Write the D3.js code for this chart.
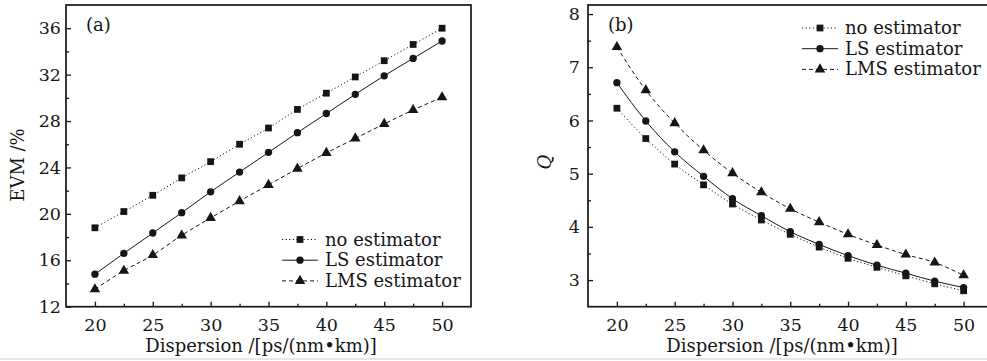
<!DOCTYPE html>
<html>
<head>
<meta charset="utf-8">
<script src="https://cdn.jsdelivr.net/npm/d3@7"></script>
<style>
  body { margin: 0; background: #fff; }
  svg { display: block; font-family: "DejaVu Serif", serif; }
</style>
</head>
<body>
<svg id="chart" width="987" height="361"></svg>
<script>
// dispersion values, ps/(nm*km)
const dispersion = [20, 22.5, 25, 27.5, 30, 32.5, 35, 37.5, 40, 42.5, 45, 47.5, 50];

// (a) EVM %
const evmNone = [18.8, 20.2, 21.6, 23.1, 24.5, 26.0, 27.4, 29.0, 30.4, 31.8, 33.2, 34.6, 36.0];
const evmLS   = [14.8, 16.6, 18.35, 20.1, 21.9, 23.6, 25.3, 27.0, 28.65, 30.3, 31.9, 33.4, 34.9];
const evmLMS  = [13.5, 15.1, 16.45, 18.15, 19.65, 21.1, 22.5, 23.9, 25.25, 26.5, 27.75, 28.95, 30.05];

// (b) Q factor
const qNone = [6.23, 5.66, 5.18, 4.79, 4.43, 4.13, 3.86, 3.62, 3.41, 3.24, 3.08, 2.93, 2.8];
const qLS   = [6.71, 5.99, 5.41, 4.95, 4.53, 4.21, 3.91, 3.67, 3.46, 3.28, 3.13, 2.98, 2.86];
const qLMS  = [7.38, 6.57, 5.95, 5.44, 5.01, 4.65, 4.34, 4.09, 3.86, 3.66, 3.48, 3.33, 3.09];

const seriesNames = ['no estimator', 'LS estimator', 'LMS estimator'];
const xMajor = [20, 25, 30, 35, 40, 45, 50];
const xMinor = [22.5, 27.5, 32.5, 37.5, 42.5, 47.5];
const evmMajor = [12, 16, 20, 24, 28, 32, 36];
const evmMinor = [14, 18, 22, 26, 30, 34];
const qMajor = [3, 4, 5, 6, 7, 8];
const qMinor = [3.5, 4.5, 5.5, 6.5, 7.5];

const svg = d3.select('#chart');
const ink = '#161616';

const styles = [
  { dash: '1.2,2.4', symbol: d3.symbolSquare, size: 46 },
  { dash: null, symbol: d3.symbolCircle, size: 42 },
  { dash: '4,3', symbol: d3.symbolTriangle, size: 48 }
];

function drawPanel(cfg) {
  const x = d3.scaleLinear().domain([17.5, 52.5]).range([cfg.left, cfg.right]);
  const y = d3.scaleLinear().domain(cfg.yDomain).range([306.7, 5]);
  const g = svg.append('g');

  // ticks point into the plot
  g.append('g').attr('transform', 'translate(0,306.7)')
    .call(d3.axisBottom(x).tickValues(xMajor).tickSizeInner(-5).tickSizeOuter(0).tickPadding(12)
      .tickFormat(d3.format('d')));
  g.append('g').attr('transform', 'translate(0,306.7)')
    .call(d3.axisBottom(x).tickValues(xMinor).tickSizeInner(-3).tickSizeOuter(0).tickFormat(''));

  g.append('g').attr('transform', `translate(${cfg.left},0)`)
    .call(d3.axisLeft(y).tickValues(cfg.yMajor).tickSizeInner(-5).tickSizeOuter(0).tickPadding(cfg.yPad)
      .tickFormat(d3.format('d')));
  g.append('g').attr('transform', `translate(${cfg.left},0)`)
    .call(d3.axisLeft(y).tickValues(cfg.yMinor).tickSizeInner(-3).tickSizeOuter(0).tickFormat(''));

  g.selectAll('.domain').remove();
  g.selectAll('.tick line').attr('stroke', ink).attr('stroke-width', 1.3);
  g.selectAll('.tick text').attr('fill', ink).style('font-size', '17.5px')
    .style('font-family', '"DejaVu Serif", serif');

  // frame
  g.append('rect')
    .attr('x', cfg.left).attr('y', 5)
    .attr('width', cfg.right - cfg.left).attr('height', 301.7)
    .attr('fill', 'none').attr('stroke', ink).attr('stroke-width', 1.7);

  const line = d3.line()
    .x((d, i) => x(dispersion[i]))
    .y(d => y(d))
    .curve(d3.curveMonotoneX);

  cfg.series.forEach((vals, k) => {
    g.append('path').datum(vals)
      .attr('d', line)
      .attr('fill', 'none').attr('stroke', ink).attr('stroke-width', 1)
      .attr('stroke-dasharray', styles[k].dash);
    g.selectAll(null).data(vals).join('path')
      .attr('transform', (d, i) => `translate(${x(dispersion[i])},${y(d)})`)
      .attr('d', d3.symbol().type(styles[k].symbol).size(styles[k].size))
      .attr('fill', ink);
  });

  // legend
  const lg = g.append('g');
  seriesNames.forEach((name, k) => {
    const cy = cfg.legY + k * 20.7;
    lg.append('line')
      .attr('x1', cfg.legX).attr('x2', cfg.legX + 36)
      .attr('y1', cy).attr('y2', cy)
      .attr('stroke', ink).attr('stroke-width', 1)
      .attr('stroke-dasharray', styles[k].dash);
    lg.append('path')
      .attr('transform', `translate(${cfg.legX + 18},${cy})`)
      .attr('d', d3.symbol().type(styles[k].symbol).size(styles[k].size))
      .attr('fill', ink);
    lg.append('text')
      .attr('x', cfg.legX + 43).attr('y', cy + 6)
      .attr('fill', ink).style('font-size', '18px')
      .text(name);
  });

  // panel tag
  g.append('text').attr('x', cfg.left + 20).attr('y', 31)
    .attr('fill', ink).style('font-size', '18px').text(cfg.tag);

  // x label
  g.append('text').attr('x', cfg.xLabelX).attr('y', 352)
    .attr('text-anchor', 'middle').attr('fill', ink).style('font-size', '18px')
    .text('Dispersion /[ps/(nm\u2022km)]');

  // y label
  const yl = g.append('text')
    .attr('transform', `translate(${cfg.yLabelX},${cfg.yLabelY}) rotate(-90)`)
    .attr('text-anchor', 'middle').attr('fill', ink).style('font-size', '18px')
    .text(cfg.yLabel);
  if (cfg.italicY) yl.style('font-style', 'italic');
}

drawPanel({
  left: 66, right: 471, yDomain: [12, 38],
  yMajor: evmMajor, yMinor: evmMinor, yPad: 5,
  series: [evmNone, evmLS, evmLMS],
  legX: 282, legY: 239.5, tag: '(a)',
  xLabelX: 261, yLabelX: 24, yLabelY: 165, yLabel: 'EVM /%'
});

drawPanel({
  left: 588, right: 992.5, yDomain: [2.5, 8.17],
  yMajor: qMajor, yMinor: qMinor, yPad: 8,
  series: [qNone, qLS, qLMS],
  legX: 802, legY: 28, tag: '(b)',
  xLabelX: 782, yLabelX: 551, yLabelY: 162, yLabel: 'Q', italicY: true
});

// faint scan edge at the bottom of the figure
svg.append('line').attr('x1', 0).attr('x2', 987).attr('y1', 359).attr('y2', 359)
  .attr('stroke', '#e6e6e6').attr('stroke-width', 2);
</script>
</body>
</html>
